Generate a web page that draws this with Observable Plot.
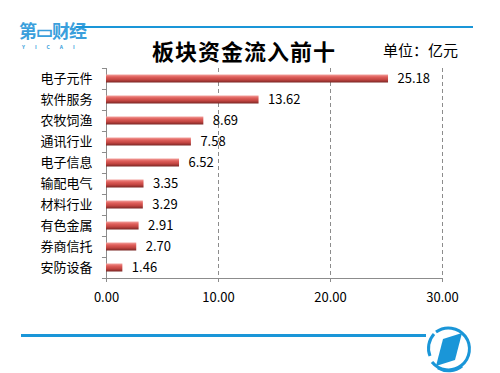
<!DOCTYPE html>
<html>
<head>
<meta charset="utf-8">
<script src="https://cdn.jsdelivr.net/npm/d3@7"></script>
<script src="https://cdn.jsdelivr.net/npm/@observablehq/plot@0.6"></script>
<style>
  html, body { margin: 0; padding: 0; background: #fff; }
  body { width: 500px; height: 373px; overflow: hidden; position: relative; font-family: "Noto Sans CJK SC", "Noto Sans", sans-serif; }
  #header { position: absolute; left: 0; top: 0; width: 500px; height: 60px; }
  #chart { position: absolute; left: 0; top: 60px; width: 500px; height: 255px; }
  #footer { position: absolute; left: 0; top: 315px; width: 500px; height: 58px; }
  .topline { position: absolute; left: 76px; top: 26px; width: 397px; height: 2px; background: #1a96d8; }
  .logo { position: absolute; left: 19px; top: 21px; color: #3a9fdc; font-weight: 700; font-size: 18px; letter-spacing: -1px; line-height: 18px; }
  .logo-sub { position: absolute; left: 22px; top: 44px; color: #3a9fdc; font-size: 5px; letter-spacing: 10px; line-height: 5px; font-weight: 700; }
  .title { position: absolute; left: 0; width: 488px; top: 36px; text-align: center; font-size: 22px; font-weight: 700; letter-spacing: 1px; color: #000; line-height: 28px; }
  .unit { position: absolute; left: 383px; top: 40px; font-size: 15px; color: #000; line-height: 20px; }
  .botline { position: absolute; left: 21px; top: 19px; width: 405px; height: 3px; background: #1a96d8; }
  .circ { position: absolute; left: 424px; top: 9px; }
</style>
</head>
<body>
<div id="header">
  <div class="logo">第▭财经</div>
  <div class="logo-sub">YICAI</div>
  <div class="topline"></div>
  <div class="title">板块资金流入前十</div>
  <div class="unit">单位：亿元</div>
</div>
<div id="chart"></div>
<div id="footer">
  <div class="botline"></div>
  <svg class="circ" width="50" height="50" viewBox="0 0 50 50">
    <path d="M 12 8 A 21 21 0 1 1 8 38" fill="none" stroke="#1a96d8" stroke-width="3"/>
    <path d="M 6 32 A 21 21 0 0 1 10 10" fill="none" stroke="#1a96d8" stroke-width="3"/>
    <path d="M 38 42 A 21 21 0 0 1 14 44" fill="none" stroke="#1a96d8" stroke-width="3"/>
    <polygon points="19,15 38,9 31,36 12,42" fill="#1a96d8"/>
  </svg>
</div>
<script>
const categories = ["电子元件", "软件服务", "农牧饲渔", "通讯行业", "电子信息", "输配电气", "材料行业", "有色金属", "券商信托", "安防设备"];
const values = [25.18, 13.62, 8.69, 7.58, 6.52, 3.35, 3.29, 2.91, 2.70, 1.46];
const xTicks = [0, 10, 20, 30];
const gridTicks = [10, 20, 30];

const data = categories.map((name, i) => ({name, value: values[i]}));
const axisGray = "#8c8c8c";

const plot = Plot.plot({
  width: 500,
  height: 255,
  marginLeft: 106,
  marginRight: 58,
  marginTop: 8,
  marginBottom: 37,
  style: {fontFamily: '"Noto Sans CJK SC", "Noto Sans", sans-serif', fontSize: "13px", color: "#000", background: "transparent"},
  x: {domain: [0, 30], label: null},
  y: {domain: categories, padding: 0, label: null},
  marks: [
    Plot.ruleX(gridTicks, {stroke: axisGray, strokeDasharray: "4,3", strokeWidth: 1}),
    Plot.ruleX([0], {stroke: axisGray, strokeWidth: 1}),
    Plot.ruleY([categories[categories.length - 1]], {x1: 0, x2: 30, dy: 10.5, stroke: axisGray}),
    Plot.ruleY(categories, {x1: -0.36, x2: 0, dy: -10.5, stroke: axisGray}),
    Plot.ruleY([categories[categories.length - 1]], {x1: -0.36, x2: 0, dy: 10.5, stroke: axisGray}),
    Plot.barX(data, {x: "value", y: "name", fill: "url(#barGrad)", insetTop: 6.5, insetBottom: 6.5}),
    Plot.text(data, {x: "value", y: "name", text: d => d.value.toFixed(2), dx: 9, textAnchor: "start", fontSize: 13, fill: "#000"}),
    Plot.axisX({ticks: xTicks, tickSize: 4, tickPadding: 10, tickFormat: d3.format(".2f"), stroke: axisGray, fill: "#000", fontSize: 13, label: null}),
    Plot.axisY({tickSize: 0, tickPadding: 14, fill: "#000", fontSize: 13, label: null})
  ]
});

const ns = "http://www.w3.org/2000/svg";
const defs = document.createElementNS(ns, "defs");
defs.innerHTML = `<linearGradient id="barGrad" x1="0" y1="0" x2="0" y2="1">
  <stop offset="0" stop-color="#f3a29e"/>
  <stop offset="0.3" stop-color="#e0605c"/>
  <stop offset="0.65" stop-color="#c24541"/>
  <stop offset="1" stop-color="#7a2624"/>
</linearGradient>`;
plot.insertBefore(defs, plot.firstChild);
document.getElementById("chart").appendChild(plot);
</script>
</body>
</html>
